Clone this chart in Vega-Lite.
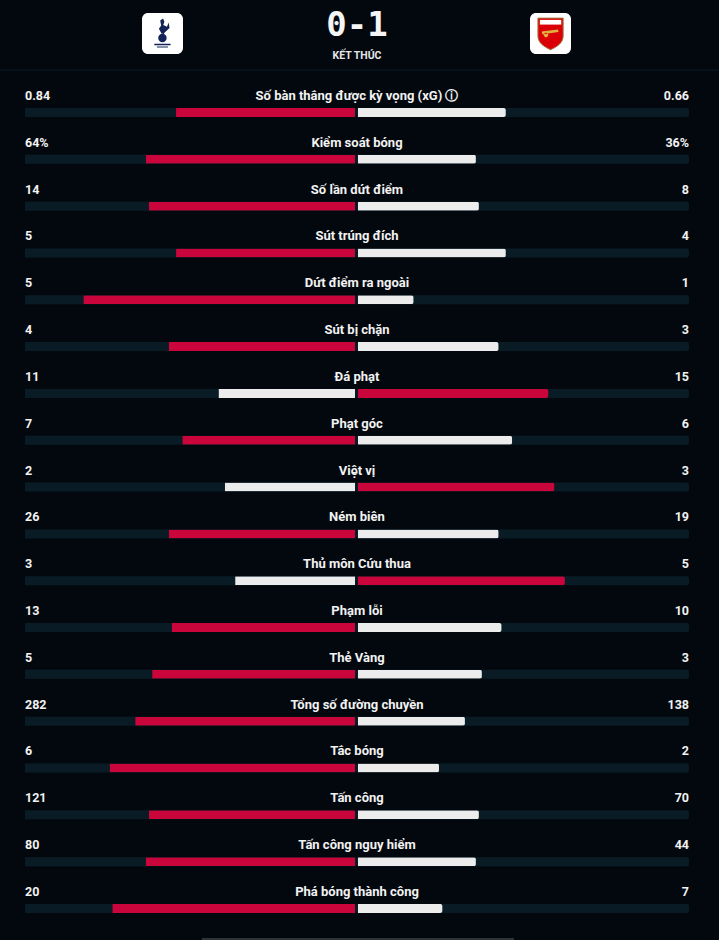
{
  "$schema": "https://vega.github.io/schema/vega-lite/v6.json",
  "width": 719,
  "height": 940,
  "autosize": "none",
  "padding": 0,
  "background": "#03080e",
  "config": {"view": {"stroke": null}, "text": {"font": "Roboto"}},
  "datasets": {
    "stats": [
      {"i": 0, "label": "Số bàn thắng được kỳ vọng (xG) ⓘ", "ht": "0.84", "at": "0.66", "lead": "home", "l": -0.545, "r": 0.448},
      {"i": 1, "label": "Kiểm soát bóng", "ht": "64%", "at": "36%", "lead": "home", "l": -0.636, "r": 0.358},
      {"i": 2, "label": "Số lần dứt điểm", "ht": "14", "at": "8", "lead": "home", "l": -0.627, "r": 0.367},
      {"i": 3, "label": "Sút trúng đích", "ht": "5", "at": "4", "lead": "home", "l": -0.545, "r": 0.448},
      {"i": 4, "label": "Dứt điểm ra ngoài", "ht": "5", "at": "1", "lead": "home", "l": -0.824, "r": 0.170},
      {"i": 5, "label": "Sút bị chặn", "ht": "4", "at": "3", "lead": "home", "l": -0.567, "r": 0.426},
      {"i": 6, "label": "Đá phạt", "ht": "11", "at": "15", "lead": "away", "l": -0.417, "r": 0.576},
      {"i": 7, "label": "Phạt góc", "ht": "7", "at": "6", "lead": "home", "l": -0.526, "r": 0.467},
      {"i": 8, "label": "Việt vị", "ht": "2", "at": "3", "lead": "away", "l": -0.398, "r": 0.594},
      {"i": 9, "label": "Ném biên", "ht": "26", "at": "19", "lead": "home", "l": -0.567, "r": 0.426},
      {"i": 10, "label": "Thủ môn Cứu thua", "ht": "3", "at": "5", "lead": "away", "l": -0.367, "r": 0.626},
      {"i": 11, "label": "Phạm lỗi", "ht": "13", "at": "10", "lead": "home", "l": -0.558, "r": 0.435},
      {"i": 12, "label": "Thẻ Vàng", "ht": "5", "at": "3", "lead": "home", "l": -0.617, "r": 0.376},
      {"i": 13, "label": "Tổng số đường chuyền", "ht": "282", "at": "138", "lead": "home", "l": -0.668, "r": 0.325},
      {"i": 14, "label": "Tắc bóng", "ht": "6", "at": "2", "lead": "home", "l": -0.745, "r": 0.247},
      {"i": 15, "label": "Tấn công", "ht": "121", "at": "70", "lead": "home", "l": -0.627, "r": 0.367},
      {"i": 16, "label": "Tấn công nguy hiểm", "ht": "80", "at": "44", "lead": "home", "l": -0.636, "r": 0.358},
      {"i": 17, "label": "Phá bóng thành công", "ht": "20", "at": "7", "lead": "home", "l": -0.737, "r": 0.257}
    ],
    "logos": [
      {"team": "Tottenham", "xa": -0.6476, "xb": -0.5241, "ya": -1.7727, "yb": -0.8971},
      {"team": "Arsenal", "xa": 0.5211, "xb": 0.6446, "ya": -1.7727, "yb": -0.8971}
    ],
    "spurs": [{"x": -0.586, "i": -1.335}],
    "arsenal": [{"x": 0.583, "i": -1.335}],
    "score": [{"x": 0, "i": -1.505, "t": "0-1"}],
    "status": [{"x": 0, "i": -0.845, "t": "KẾT THÚC"}],
    "sep": [{"i": -0.5553}],
    "bottom": [{"i": 18.005}]
  },
  "layer": [
    {
      "data": {"name": "sep"},
      "mark": {"type": "bar", "orient": "horizontal", "size": 1, "color": "#0f1b24"},
      "encoding": {
        "x": {"datum": -1.0753, "type": "quantitative", "scale": {"domain": [-1.0753, 1.0904], "nice": false, "padding": 0}, "axis": null},
        "y": {"field": "i", "type": "quantitative", "scale": {"domain": [-2.0504, 18.026], "reverse": true, "nice": false, "zero": false, "padding": 0}, "axis": null}
      }
    },
    {
      "data": {"name": "sep"},
      "mark": {"type": "bar", "orient": "horizontal", "size": 1, "color": "#0f1b24"},
      "encoding": {
        "x": {"datum": 1.0904, "type": "quantitative"},
        "y": {"field": "i", "type": "quantitative"}
      }
    },
    {
      "data": {"name": "bottom"},
      "mark": {"type": "bar", "orient": "horizontal", "size": 2, "color": "#2b3238"},
      "encoding": {
        "x": {"datum": -0.467, "type": "quantitative"},
        "y": {"field": "i", "type": "quantitative"}
      }
    },
    {
      "data": {"name": "bottom"},
      "mark": {"type": "bar", "orient": "horizontal", "size": 2, "color": "#2b3238"},
      "encoding": {
        "x": {"datum": 0.473, "type": "quantitative"},
        "y": {"field": "i", "type": "quantitative"}
      }
    },
    {
      "data": {"name": "stats"},
      "mark": {"type": "bar", "orient": "horizontal", "size": 9, "color": "#091c26", "cornerRadiusEnd": 2, "yOffset": 16.5},
      "encoding": {
        "x": {"datum": -1, "type": "quantitative"},
        "y": {"field": "i", "type": "quantitative"}
      }
    },
    {
      "data": {"name": "stats"},
      "mark": {"type": "bar", "orient": "horizontal", "size": 9, "color": "#091c26", "cornerRadiusEnd": 2, "yOffset": 16.5},
      "encoding": {
        "x": {"datum": 1, "type": "quantitative"},
        "y": {"field": "i", "type": "quantitative"}
      }
    },
    {
      "data": {"name": "stats"},
      "mark": {"type": "bar", "orient": "horizontal", "size": 9, "cornerRadiusEnd": 2, "yOffset": 16.5, "xOffset": -2},
      "encoding": {
        "x": {"field": "l", "type": "quantitative"},
        "y": {"field": "i", "type": "quantitative"},
        "color": {"condition": {"test": "datum.lead === 'home'", "value": "#c9053b"}, "value": "#ececec"}
      }
    },
    {
      "data": {"name": "stats"},
      "mark": {"type": "bar", "orient": "horizontal", "size": 9, "cornerRadiusEnd": 2, "yOffset": 16.5, "xOffset": 1},
      "encoding": {
        "x": {"field": "r", "type": "quantitative"},
        "y": {"field": "i", "type": "quantitative"},
        "color": {"condition": {"test": "datum.lead === 'away'", "value": "#c9053b"}, "value": "#ececec"}
      }
    },
    {
      "data": {"name": "stats"},
      "mark": {"type": "text", "align": "left", "baseline": "middle", "fontSize": 12.5, "fontWeight": "bold", "color": "#f2f2f2"},
      "encoding": {
        "x": {"datum": -1, "type": "quantitative"},
        "y": {"field": "i", "type": "quantitative"},
        "text": {"field": "ht"}
      }
    },
    {
      "data": {"name": "stats"},
      "mark": {"type": "text", "align": "center", "baseline": "middle", "fontSize": 13, "fontWeight": "bold", "color": "#f2f2f2"},
      "encoding": {
        "x": {"datum": 0, "type": "quantitative"},
        "y": {"field": "i", "type": "quantitative"},
        "text": {"field": "label"}
      }
    },
    {
      "data": {"name": "stats"},
      "mark": {"type": "text", "align": "right", "baseline": "middle", "fontSize": 12.5, "fontWeight": "bold", "color": "#f2f2f2"},
      "encoding": {
        "x": {"datum": 1, "type": "quantitative"},
        "y": {"field": "i", "type": "quantitative"},
        "text": {"field": "at"}
      }
    },
    {
      "data": {"name": "logos"},
      "mark": {"type": "rect", "color": "#ffffff", "cornerRadius": 6},
      "encoding": {
        "x": {"field": "xa", "type": "quantitative"},
        "x2": {"field": "xb"},
        "y": {"field": "ya", "type": "quantitative"},
        "y2": {"field": "yb"}
      }
    },
    {
      "data": {"name": "spurs"},
      "mark": {"type": "point", "filled": true, "color": "#132257", "opacity": 1, "size": 1050,
        "shape": "M-0.26,0.28 A0.26,0.26 0 1,0 0.26,0.28 A0.26,0.26 0 1,0 -0.26,0.28 Z M-0.04,0.03 L-0.22,-0.3 L-0.08,-0.5 L-0.14,-0.8 L0.04,-0.92 L0.12,-0.72 L0.05,-0.52 L0.28,-0.42 L0.38,-0.68 L0.44,-0.34 L0.15,-0.08 L0.08,0.03 Z M-0.5,0.64 L0.5,0.64 L0.5,0.72 L-0.5,0.72 Z M-0.34,0.8 L0.34,0.8 L0.34,0.87 L-0.34,0.87 Z"},
      "encoding": {
        "x": {"field": "x", "type": "quantitative"},
        "y": {"field": "i", "type": "quantitative"}
      }
    },
    {
      "data": {"name": "arsenal"},
      "mark": {"type": "point", "filled": true, "color": "#db0007", "opacity": 1, "size": 1050, "stroke": "#9c824a", "strokeWidth": 1,
        "shape": "M-0.78,-0.95 L0.78,-0.95 L0.78,0.15 C0.78,0.6 0.35,0.85 0,1 C-0.35,0.85 -0.78,0.6 -0.78,0.15 Z"},
      "encoding": {
        "x": {"field": "x", "type": "quantitative"},
        "y": {"field": "i", "type": "quantitative"}
      }
    },
    {
      "data": {"name": "arsenal"},
      "mark": {"type": "point", "filled": true, "color": "#ffffff", "opacity": 1, "size": 1050, "strokeWidth": 0,
        "shape": "M-0.66,-0.84 L0.66,-0.84 L0.66,-0.55 L-0.66,-0.55 Z"},
      "encoding": {
        "x": {"field": "x", "type": "quantitative"},
        "y": {"field": "i", "type": "quantitative"}
      }
    },
    {
      "data": {"name": "arsenal"},
      "mark": {"type": "point", "filled": true, "color": "#e0b13f", "opacity": 1, "size": 1050, "strokeWidth": 0,
        "shape": "M-0.55,-0.12 L0.45,-0.24 L0.5,-0.1 L-0.5,0.04 Z M-0.42,0.1 A0.14,0.14 0 1,0 -0.14,0.1 A0.14,0.14 0 1,0 -0.42,0.1 Z"},
      "encoding": {
        "x": {"field": "x", "type": "quantitative"},
        "y": {"field": "i", "type": "quantitative"}
      }
    },
    {
      "data": {"name": "score"},
      "mark": {"type": "text", "align": "center", "baseline": "middle", "fontSize": 34, "fontWeight": "bold", "font": "DejaVu Sans Mono", "color": "#f5f5f5"},
      "encoding": {
        "x": {"field": "x", "type": "quantitative"},
        "y": {"field": "i", "type": "quantitative"},
        "text": {"field": "t"}
      }
    },
    {
      "data": {"name": "status"},
      "mark": {"type": "text", "align": "center", "baseline": "middle", "fontSize": 10.5, "fontWeight": "bold", "color": "#e6e6e6"},
      "encoding": {
        "x": {"field": "x", "type": "quantitative"},
        "y": {"field": "i", "type": "quantitative"},
        "text": {"field": "t"}
      }
    }
  ]
}
